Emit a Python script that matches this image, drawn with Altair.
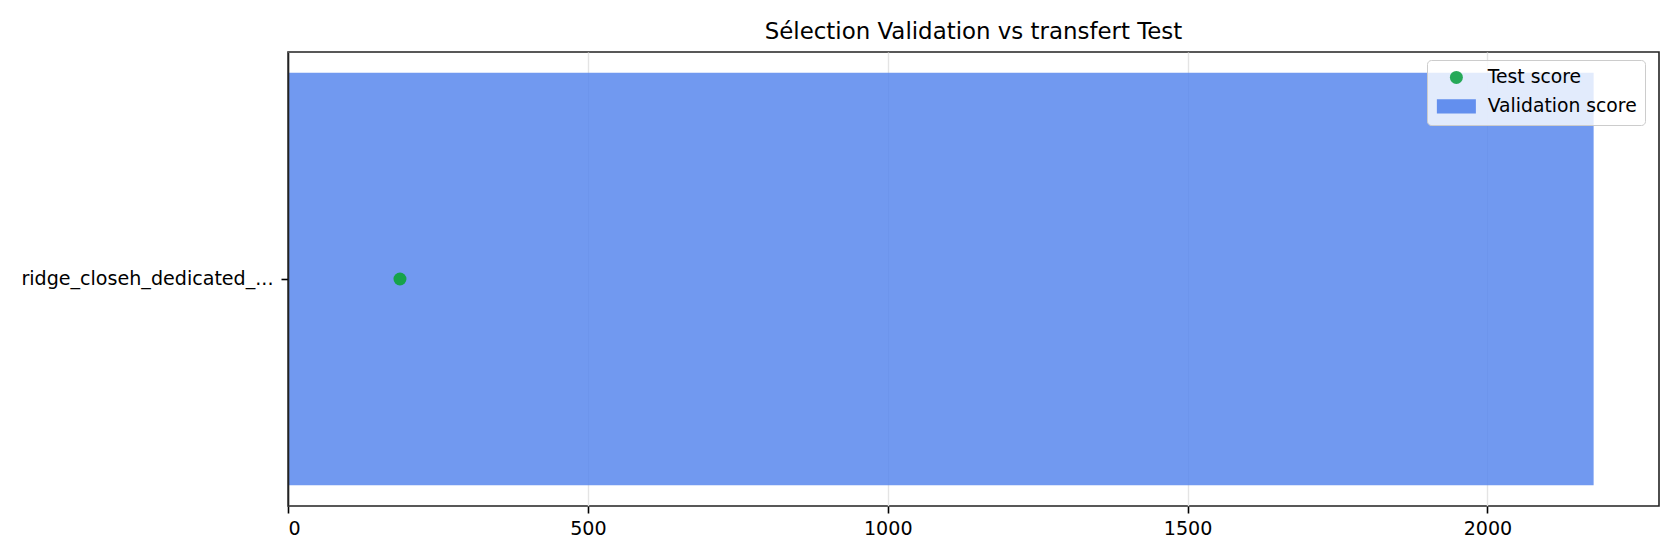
import altair as alt
import pandas as pd

# ---- data ----
models = ["ridge_closeh_dedicated_..."]
validation_scores = [2177]
test_scores = [186.7]
series_names = ["Test score", "Validation score"]
x_ticks = [0, 500, 1000, 1500, 2000]
x_max = 2286

bar_df = pd.DataFrame({"model": models, "score": validation_scores,
                       "series": ["Validation score"] * len(models)})
pt_df = pd.DataFrame({"model": models, "score": test_scores,
                      "series": ["Test score"] * len(models)})

FONT = "DejaVu Sans"
TICK_FS = 19.1

x_enc = alt.X("score:Q",
              scale=alt.Scale(domain=[0, x_max], nice=False, zero=True),
              axis=alt.Axis(values=x_ticks, format="d", title=None, grid=True,
                            gridColor="#e4e4e4", gridWidth=1.4, domain=False,
                            tickColor="#000000", tickSize=7, tickWidth=1.6,
                            labelPadding=6, labelFontSize=TICK_FS, labelFont=FONT,
                            labelColor="#000000"))
y_enc = alt.Y("model:N",
              scale=alt.Scale(paddingInner=0, paddingOuter=0.05),
              axis=alt.Axis(title=None, grid=False, domain=True, domainColor="#222222",
                            domainWidth=1.6, tickColor="#000000", tickSize=7,
                            tickWidth=1.6, labelPadding=8, labelFontSize=TICK_FS,
                            labelLimit=600, labelFont=FONT, labelColor="#000000",
                            zindex=1))

color_scale = alt.Scale(domain=series_names, range=["#16a34a", "#5887ED"])
shape_scale = alt.Scale(domain=series_names,
                        range=["circle", "M-3,-1.08L3,-1.08L3,1.08L-3,1.08Z"])
legend = alt.Legend(title=None, orient="none", legendX=1139, legendY=8,
                    fillColor="rgba(255,255,255,0.8)", strokeColor="#cccccc",
                    cornerRadius=4, padding=8,
                    symbolSize=169, symbolStrokeWidth=0, symbolOffset=12,
                    labelOffset=22, rowPadding=9, labelFontSize=18.75,
                    labelFont=FONT, labelColor="#000000", symbolOpacity=0.92)

bars = alt.Chart(bar_df).mark_bar(opacity=0.85).encode(
    x=x_enc, y=y_enc,
    color=alt.Color("series:N", scale=color_scale, legend=legend),
)
points = alt.Chart(pt_df).mark_point(filled=True, size=169, opacity=1).encode(
    x="score:Q", y="model:N",
    color=alt.Color("series:N", scale=color_scale, legend=legend),
    shape=alt.Shape("series:N", scale=shape_scale, legend=legend),
)

chart = alt.layer(bars, points).properties(
    width=1371, height=454,
    background="white",
    title=alt.TitleParams("Sélection Validation vs transfert Test", font=FONT,
                          fontSize=22.9, fontWeight="normal", color="#000000",
                          anchor="middle", baseline="alphabetic", offset=14.7,
                          dy=25),
    autosize=alt.AutoSizeParams(type="none"),
    padding={"left": 280, "top": 44, "right": 12, "bottom": 40},
).configure_view(stroke="#222222", strokeWidth=1.6)

chart.save("out.html", embed_options={"renderer": "svg", "actions": False})
